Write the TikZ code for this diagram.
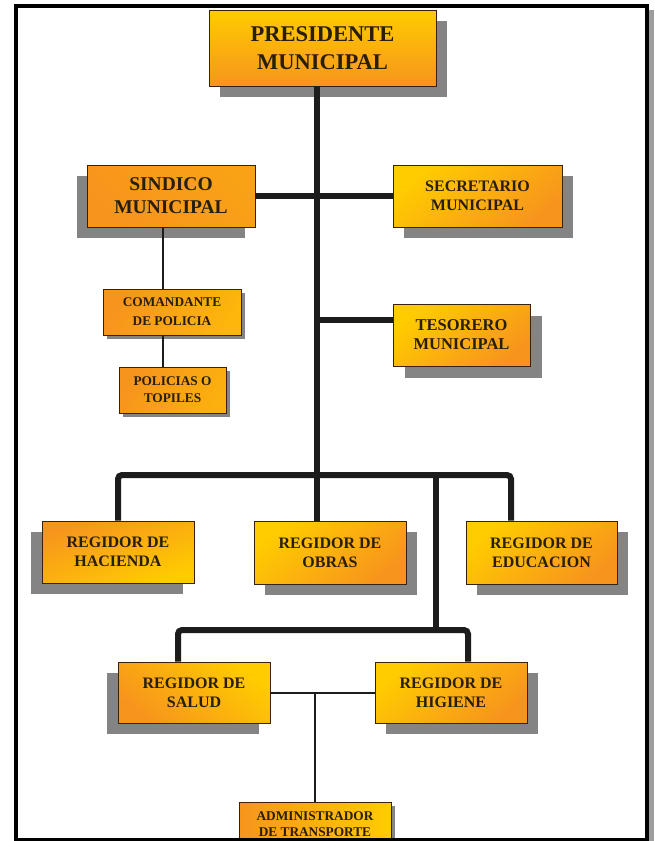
\documentclass[tikz,border=0pt]{standalone}
\usepackage{fontspec}
\setmainfont{Liberation Serif}
\usetikzlibrary{shadows}
\definecolor{yel}{RGB}{255,204,0}
\definecolor{org}{RGB}{247,148,29}
\definecolor{shgray}{RGB}{132,132,132}
\definecolor{txt}{RGB}{40,30,10}
\definecolor{edge}{RGB}{55,35,12}
\definecolor{ln}{RGB}{28,28,28}
\tikzset{
  box/.style={draw=edge, line width=0.8pt, inner sep=0pt, align=center, text=txt},
  shR/.style={general shadow={fill=shgray, shadow xshift=#1pt, shadow yshift=-#1pt}},
  shL/.style={general shadow={fill=shgray, shadow xshift=-#1pt, shadow yshift=-#1pt}},
  fsz/.style 2 args={font=\fontsize{#1}{#2}\selectfont\bfseries},
  gr/.style 2 args={top color=#1, bottom color=#2},
  yor/.style={top color=yel, middle color=yel, bottom color=org},
  thickline/.style={draw=ln, line width=6pt},
  thinline/.style={draw=ln, line width=2pt},
}
\begin{document}
\begin{tikzpicture}[x=1pt,y=-1pt]
\useasboundingbox (0,0) rectangle (654,841);
\fill[white] (0,0) rectangle (654,841);
% frame
\fill[shgray!80] (649,10) rectangle (654,841);
\draw[line width=4pt, black] (16,6) rectangle (647,840);

% coordinates for connector bends
\coordinate (tx) at (317,0);
\coordinate (cl) at (163,0);
\coordinate (busL) at (118,475);
\coordinate (busR) at (511,475);
\coordinate (t2) at (436,475);
\coordinate (bus2L) at (178,630);
\coordinate (bus2R) at (468,630);

% boxes
\node[box, shR=11, gr={yel}{org}, minimum width=227pt, minimum height=76pt, fsz={22.5}{28}] (pres) at (322.5,48) {PRESIDENTE\\MUNICIPAL};
\node[box, shL=10.5, top color=org!75!yel, bottom color=org, shading angle=-45, minimum width=168pt, minimum height=62pt, fsz={19.5}{23}] (sind) at (171,196) {SINDICO\\MUNICIPAL};
\node[box, shR=10.5, yor, shading angle=40, minimum width=169pt, minimum height=62pt, fsz={16}{19}] (secr) at (477.5,196) {SECRETARIO\\MUNICIPAL};
\node[box, shR=4, top color=org, bottom color=yel!60!org, shading angle=60, minimum width=138pt, minimum height=46pt, fsz={13.3}{19}] (com) at (172,312) {COMANDANTE\\DE POLICIA};
\node[box, shR=4, top color=org, bottom color=yel!50!org, shading angle=60, minimum width=107pt, minimum height=46pt, fsz={13.3}{17}] (pol) at (172.5,390) {POLICIAS O\\TOPILES};
\node[box, shR=12, yor, shading angle=40, minimum width=137pt, minimum height=62pt, fsz={16.5}{19}] (tes) at (461.5,335) {TESORERO\\MUNICIPAL};

\node[box, shL=11, gr={org}{yel}, shading angle=20, minimum width=152pt, minimum height=62pt, fsz={16}{19}] (hac) at (118,552) {REGIDOR DE\\HACIENDA};
\node[box, shR=11, yor, shading angle=40, minimum width=152pt, minimum height=63pt, fsz={16}{19}] (obr) at (330,552.5) {REGIDOR DE\\OBRAS};
\node[box, shR=11, yor, shading angle=40, minimum width=151pt, minimum height=63pt, fsz={16}{19}] (edu) at (541.5,552.5) {REGIDOR DE\\EDUCACION};
\node[box, shL=11, yor, shading angle=-40, minimum width=152pt, minimum height=61pt, fsz={16}{19}] (sal) at (194,692.5) {REGIDOR DE\\SALUD};
\node[box, shR=11, yor, shading angle=40, minimum width=152pt, minimum height=61pt, fsz={16}{19}] (hig) at (451,692.5) {REGIDOR DE\\HIGIENE};
\node[box, shR=4, top color=org, bottom color=yel, shading angle=90, minimum width=152pt, minimum height=44pt, fsz={13.3}{16}] (adm) at (315,824) {ADMINISTRADOR\\DE TRANSPORTE};

% connectors
\draw[thickline] (pres.south -| tx) -- (obr.north -| tx);
\draw[thickline] (sind.east) -- (secr.west);
\draw[thickline] ([yshift=15pt]tes.west -| tx) -- ([yshift=15pt]tes.west);
\draw[thickline, rounded corners=4pt] (hac.north -| busL) -- (busL) -- (busR) -- (edu.north -| busR);
\draw[thickline] (t2) -- (t2 |- bus2L);
\draw[thickline, rounded corners=4pt] (sal.north -| bus2L) -- (bus2L) -- (bus2R) -- (hig.north -| bus2R);
\draw[thinline] (sind.south -| cl) -- (com.north -| cl);
\draw[thinline] (com.south -| cl) -- (pol.north -| cl);
\draw[thinline] (sal.east) -- (hig.west);
\draw[thinline] (adm.north |- sal.east) -- (adm.north);

% bottom frame edge redrawn over the cut box
\draw[line width=4pt, black] (14,840) -- (649,840);
\end{tikzpicture}
\end{document}
